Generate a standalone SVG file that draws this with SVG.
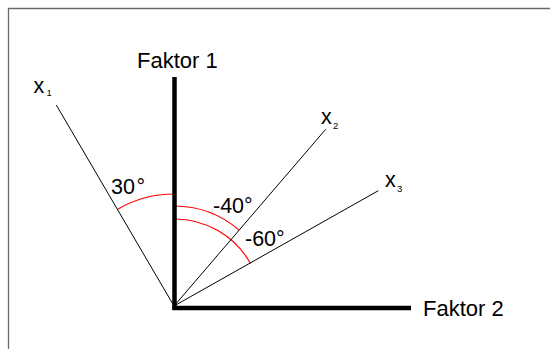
<svg xmlns="http://www.w3.org/2000/svg" width="550" height="349" viewBox="0 0 550 349">
<style>
text{font-family:"Liberation Sans",Arial,sans-serif;fill:#000}
.lbl{font-size:22px}
.ang{font-size:21.5px}
.sub{font-size:9.5px}
.ray{stroke:#000;stroke-width:1;fill:none}
.arc{stroke:#ff0000;stroke-width:1.2;fill:none}
.axis{stroke:#000;stroke-width:4.5;fill:none}
</style>
<rect width="550" height="349" fill="#fff"/>
<path d="M8.5,349 V8.5 H550" fill="none" stroke="#6a6a6a" stroke-width="1.3"/>
<g id="arcs">
<path class="arc" d="M174,194 A112,112 0 0 0 118,209"/>
<path class="arc" d="M174,206 A100,100 0 0 1 239.1,230.1"/>
<path class="arc" d="M174,219 A87,87 0 0 1 250.5,263.5"/>
</g>
<g id="connectors">
<line class="ray" x1="174" y1="306" x2="56.3" y2="105"/>
<line class="ray" x1="174" y1="306" x2="325.7" y2="129.3"/>
<line class="ray" x1="174" y1="306" x2="378.3" y2="190.7"/>
</g>
<g id="axes">
<line class="axis" x1="174.5" y1="77" x2="174.5" y2="310"/>
<line class="axis" x1="172.5" y1="308" x2="411" y2="308"/>
</g>
<g id="faktor1"><text class="lbl" x="137" y="68">Faktor 1</text></g>
<g id="faktor2"><text class="lbl" x="423" y="315.5">Faktor 2</text></g>
<g id="x1"><text class="ang" x="33.5" y="92.7">x</text><text class="sub" x="46.5" y="96">1</text></g>
<g id="x2"><text class="ang" x="321" y="124">x</text><text class="sub" x="333" y="129">2</text></g>
<g id="x3"><text class="ang" x="385" y="187.3">x</text><text class="sub" x="397" y="192.3">3</text></g>
<g id="angles">
<text class="ang" x="111" y="194.3">30<tspan dx="1.5">°</tspan></text>
<text class="ang" x="213" y="213.3">-40°</text>
<text class="ang" x="245" y="246">-60°</text>
</g>
</svg>
